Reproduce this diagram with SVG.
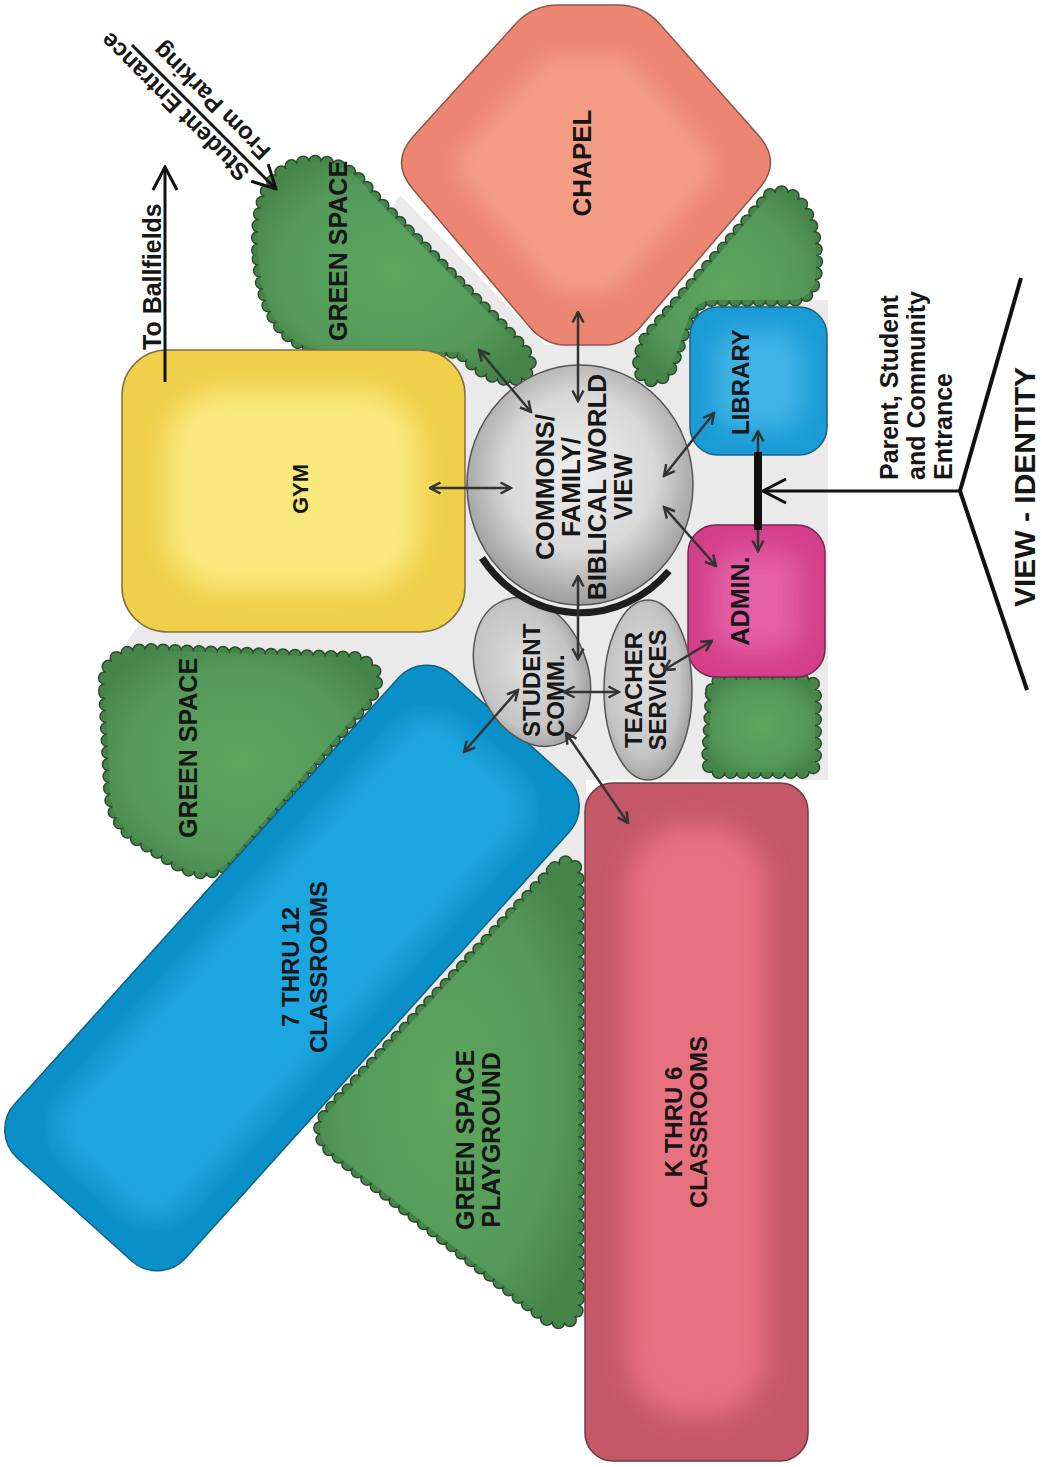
<svg xmlns="http://www.w3.org/2000/svg" width="1045" height="1467" viewBox="0 0 1045 1467">
<defs>
<style>
.t{font-family:"Liberation Sans",Arial,Helvetica,sans-serif;font-weight:bold;fill:#161616}
.gs-o{fill:none;stroke:#2e4b2e;stroke-width:14;stroke-dasharray:0 12;stroke-linecap:round}
.gs-i{fill:none;stroke:#46854a;stroke-width:11;stroke-dasharray:0 12;stroke-linecap:round}
.gs-f{fill:url(#gGreen)}
.c{fill:none;stroke:#333;stroke-width:2.5;marker-start:url(#ah);marker-end:url(#ah)}
.big{fill:none;stroke:#111;stroke-width:3;marker-end:url(#bh)}
.soft{filter:url(#blur)}
</style>
<filter id="blur" x="-30%" y="-30%" width="160%" height="160%"><feGaussianBlur stdDeviation="12"/></filter>
<radialGradient id="gGreen" cx="50%" cy="50%" r="60%"><stop offset="0" stop-color="#5ea65e"/><stop offset="0.7" stop-color="#54995a"/><stop offset="1" stop-color="#46854a"/></radialGradient>
<radialGradient id="gGray" cx="50%" cy="45%" r="55%"><stop offset="0" stop-color="#eeeeee"/><stop offset="0.6" stop-color="#d8d8d8"/><stop offset="1" stop-color="#9c9c9c"/></radialGradient>
<radialGradient id="gGray2" cx="45%" cy="45%" r="60%"><stop offset="0" stop-color="#dedede"/><stop offset="0.7" stop-color="#c4c4c4"/><stop offset="1" stop-color="#9a9a9a"/></radialGradient>
<marker id="ah" viewBox="0 0 14 14" refX="12.5" refY="7" markerWidth="14" markerHeight="14" markerUnits="userSpaceOnUse" orient="auto-start-reverse"><path d="M2,1.5 L12.5,7 L2,12.5" fill="none" stroke="#333" stroke-width="2.5"/></marker>
<marker id="bh" viewBox="0 0 28 28" refX="26" refY="14" markerWidth="28" markerHeight="28" markerUnits="userSpaceOnUse" orient="auto"><path d="M3,2 L26,14 L3,26" fill="none" stroke="#111" stroke-width="3"/></marker>
<path id="pGreenTop" d="M258,250 Q255,175 300,163 Q345,155 372,195 L520,345 Q540,368 520,378 Q490,385 460,352 L320,350 Q262,340 258,250 Z"/>
<path id="pGreenLeft" d="M105,690 Q100,650 150,650 L355,658 Q388,668 370,698 L232,858 Q212,882 180,866 L135,838 Q112,822 110,790 Z"/>
<path id="pGreenPlay" d="M555,868 Q578,850 578,885 L578,1300 Q578,1330 548,1320 L330,1150 Q310,1130 330,1110 Z"/>
<path id="pGreenRight" d="M770,195 Q790,185 805,210 Q820,240 815,280 Q810,300 790,300 L710,300 Q695,302 688,320 L672,365 Q665,382 648,380 Q636,375 640,355 L645,340 Z"/>
<path id="pGreenSmall" d="M712,690 Q712,680 725,680 L805,680 Q815,680 815,692 L815,760 Q815,772 803,772 L720,772 Q708,772 708,760 Z"/>
<path id="pChapel" d="M558,5 L618,5 Q643,5 659.5,23.7 L758.8,135.8 Q782,162 759.2,188.6 L641.3,326 Q625,345 605,345 L565,345 Q545,345 528.8,326 L412.6,188.7 Q390,162 413.6,136.1 L516,23.5 Q533,5 558,5 Z"/>
</defs>
<rect width="1045" height="1467" fill="#ffffff"/>
<polygon points="400,195 545,345 640,340 700,300 828,300 828,780 586,780 586,1318 578,1316 335,1130 205,1000 212,878 118,662 128,640 300,400 300,350" fill="#eaeaea"/>

<g id="green-space-top">
<use href="#pGreenTop" class="gs-o"/><use href="#pGreenTop" class="gs-i"/><use href="#pGreenTop" class="gs-f"/>
<text class="t" font-size="25" text-anchor="middle" transform="translate(347,251) rotate(-90)">GREEN SPACE</text>
</g>
<g id="green-space-left">
<use href="#pGreenLeft" class="gs-o"/><use href="#pGreenLeft" class="gs-i"/><use href="#pGreenLeft" class="gs-f"/>
<text class="t" font-size="25" text-anchor="middle" transform="translate(197,748) rotate(-90)">GREEN SPACE</text>
</g>
<g id="green-space-playground">
<use href="#pGreenPlay" class="gs-o"/><use href="#pGreenPlay" class="gs-i"/><use href="#pGreenPlay" class="gs-f"/>
<text class="t" font-size="25" text-anchor="middle" transform="translate(474,1140) rotate(-90)"><tspan x="0" y="0">GREEN SPACE</tspan><tspan x="0" y="26">PLAYGROUND</tspan></text>
</g>
<g id="green-space-right">
<use href="#pGreenRight" class="gs-o"/><use href="#pGreenRight" class="gs-i"/><use href="#pGreenRight" class="gs-f"/>
</g>
<g id="green-space-small">
<use href="#pGreenSmall" class="gs-o"/><use href="#pGreenSmall" class="gs-i"/><use href="#pGreenSmall" class="gs-f"/>
</g>

<g id="chapel">
<use href="#pChapel" fill="#ec8672" stroke="#8e5548" stroke-width="1.5"/>
<use href="#pChapel" fill="#f49c84" class="soft" transform="translate(585,172) scale(0.7) translate(-585,-172)"/>
<text class="t" font-size="26" text-anchor="middle" transform="translate(591,163) rotate(-90)">CHAPEL</text>
</g>

<g id="gym">
<rect x="122" y="350" width="343" height="282" rx="45" fill="#f0d04a" stroke="#7d7040" stroke-width="1.5"/>
<rect x="165" y="390" width="255" height="200" rx="60" fill="#f9e87c" class="soft"/>
<text class="t" font-size="22" text-anchor="middle" transform="translate(308,489) rotate(-90)">GYM</text>
</g>

<g id="classrooms-7-12">
<g transform="translate(292,968) rotate(-48)">
<rect x="-325" y="-115" width="650" height="230" rx="38" fill="#0a90c8" stroke="#135f80" stroke-width="1.5"/>
<rect x="-290" y="-80" width="580" height="160" rx="40" fill="#1ea6e0" class="soft"/>
</g>
<text class="t" font-size="24" text-anchor="middle" transform="translate(299,967) rotate(-90)"><tspan x="0" y="0">7 THRU 12</tspan><tspan x="0" y="28">CLASSROOMS</tspan></text>
</g>

<g id="classrooms-k-6">
<rect x="585" y="783" width="223" height="678" rx="28" fill="#c45868" stroke="#6e3a42" stroke-width="1.5"/>
<rect x="628" y="825" width="138" height="592" rx="60" fill="#e8717f" class="soft"/>
<text class="t" font-size="24" text-anchor="middle" transform="translate(682,1122) rotate(-90)"><tspan x="0" y="0">K THRU 6</tspan><tspan x="0" y="25">CLASSROOMS</tspan></text>
</g>

<g id="library">
<rect x="690" y="307" width="137" height="148" rx="28" fill="#1a9bd6" stroke="#235f80" stroke-width="1.5"/>
<rect x="715" y="330" width="88" height="100" rx="25" fill="#40b4e6" class="soft"/>
<text class="t" font-size="24" text-anchor="middle" transform="translate(749,382) rotate(-90)">LIBRARY</text>
</g>

<g id="admin">
<rect x="688" y="525" width="137" height="152" rx="28" fill="#d43e8a" stroke="#70284c" stroke-width="1.5"/>
<rect x="712" y="550" width="90" height="102" rx="25" fill="#e45fa4" class="soft"/>
<text class="t" font-size="25" text-anchor="middle" transform="translate(749,601) rotate(-90)">ADMIN.</text>
</g>

<g id="student-comm">
<ellipse cx="532" cy="672" rx="55" ry="77" transform="rotate(-22 532 672)" fill="url(#gGray2)" stroke="#555" stroke-width="1.5"/>
<text class="t" font-size="24" text-anchor="start" transform="translate(539.5,737) rotate(-90)"><tspan x="0" y="0">STUDENT</tspan><tspan x="0" y="24">COMM.</tspan></text>
</g>

<g id="teacher-services">
<ellipse cx="648" cy="690" rx="44" ry="90" fill="url(#gGray2)" stroke="#555" stroke-width="1.5"/>
<text class="t" font-size="24" text-anchor="middle" transform="translate(642,690) rotate(-90)"><tspan x="0" y="0">TEACHER</tspan><tspan x="0" y="24">SERVICES</tspan></text>
</g>

<g id="commons">
<ellipse cx="580" cy="485" rx="113" ry="120" fill="url(#gGray)" stroke="#555" stroke-width="1.5"/>
<path d="M482,558 A120,128 0 0 0 669,571" fill="none" stroke="#1e1e1e" stroke-width="7"/>
<text class="t" font-size="26" text-anchor="middle" transform="translate(554,487) rotate(-90)"><tspan x="0" y="0">COMMONS/</tspan><tspan x="0" y="26">FAMILY/</tspan><tspan x="0" y="52">BIBLICAL WORLD</tspan><tspan x="0" y="78">VIEW</tspan></text>
</g>

<g id="connectors">
<path class="c" d="M430,488 L511,488"/>
<path class="c" d="M479,350 L531,412"/>
<path class="c" d="M578,312 L578,401"/>
<path class="c" d="M664,476 L714,413"/>
<path class="c" d="M664,507 L716,566"/>
<path class="c" d="M664,670 L712,641"/>
<path class="c" d="M578,576 L578,659"/>
<path class="c" d="M564,692 L619,692"/>
<path class="c" d="M518,690 L464,752"/>
<path class="c" d="M566,733 L628,823"/>
<path class="c" d="M758,431 L758,551"/>
<path d="M758,452 L758,530" stroke="#111" stroke-width="8" fill="none"/>
<path class="big" d="M165,382 L165,167"/>
<path class="big" d="M132,45 L276,189"/>
<path class="big" d="M960,491 L763,491"/>
<path d="M1021,278 L960,491 L1027,690" fill="none" stroke="#111" stroke-width="4" stroke-linejoin="miter"/>
</g>

<g id="annotations">
<text class="t" font-size="25" text-anchor="start" transform="translate(161,350) rotate(-90)">To Ballfields</text>
<text class="t" font-size="24" text-anchor="start" transform="translate(255,167) rotate(-135)"><tspan x="0" y="-6">Student Entrance</tspan><tspan x="0" y="24">From Parking</tspan></text>
<text class="t" font-size="25" text-anchor="start" transform="translate(898,480) rotate(-90)"><tspan x="0" y="0">Parent, Student</tspan><tspan x="0" y="27">and Community</tspan><tspan x="0" y="54">Entrance</tspan></text>
<text class="t" font-size="30" text-anchor="middle" transform="translate(1035,487) rotate(-90)">VIEW - IDENTITY</text>
</g>
</svg>
